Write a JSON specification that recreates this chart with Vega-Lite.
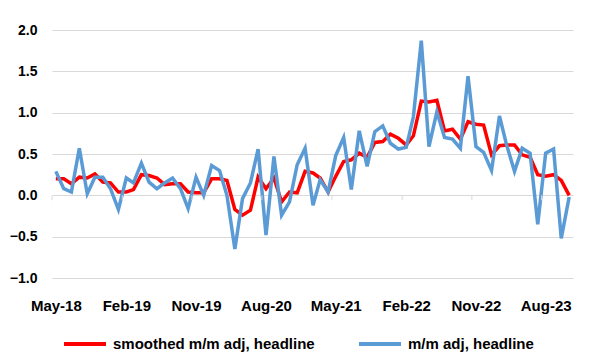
{
  "$schema": "https://vega.github.io/schema/vega-lite/v6.json",
  "width": 521,
  "height": 248,
  "autosize": "none",
  "padding": {"left": 52, "top": 30, "right": 27, "bottom": 82},
  "background": "white",
  "config": {"view": {"stroke": null}, "font": "Liberation Sans"},
  "datasets": {
    "series": [
      {"month": "2018-05-01", "smoothed": 0.20, "mm": 0.29},
      {"month": "2018-06-01", "smoothed": 0.20, "mm": 0.08},
      {"month": "2018-07-01", "smoothed": 0.14, "mm": 0.04},
      {"month": "2018-08-01", "smoothed": 0.22, "mm": 0.57},
      {"month": "2018-09-01", "smoothed": 0.21, "mm": 0.02},
      {"month": "2018-10-01", "smoothed": 0.26, "mm": 0.22},
      {"month": "2018-11-01", "smoothed": 0.16, "mm": 0.22},
      {"month": "2018-12-01", "smoothed": 0.15, "mm": 0.08},
      {"month": "2019-01-01", "smoothed": 0.04, "mm": -0.17},
      {"month": "2019-02-01", "smoothed": 0.04, "mm": 0.21},
      {"month": "2019-03-01", "smoothed": 0.07, "mm": 0.15},
      {"month": "2019-04-01", "smoothed": 0.25, "mm": 0.39},
      {"month": "2019-05-01", "smoothed": 0.24, "mm": 0.16},
      {"month": "2019-06-01", "smoothed": 0.21, "mm": 0.08},
      {"month": "2019-07-01", "smoothed": 0.13, "mm": 0.15},
      {"month": "2019-08-01", "smoothed": 0.14, "mm": 0.21},
      {"month": "2019-09-01", "smoothed": 0.14, "mm": 0.08},
      {"month": "2019-10-01", "smoothed": 0.04, "mm": -0.16},
      {"month": "2019-11-01", "smoothed": 0.03, "mm": 0.22},
      {"month": "2019-12-01", "smoothed": 0.03, "mm": 0.00},
      {"month": "2020-01-01", "smoothed": 0.20, "mm": 0.36},
      {"month": "2020-02-01", "smoothed": 0.20, "mm": 0.30},
      {"month": "2020-03-01", "smoothed": 0.18, "mm": 0.00},
      {"month": "2020-04-01", "smoothed": -0.17, "mm": -0.65},
      {"month": "2020-05-01", "smoothed": -0.24, "mm": -0.04},
      {"month": "2020-06-01", "smoothed": -0.18, "mm": 0.15},
      {"month": "2020-07-01", "smoothed": 0.22, "mm": 0.56},
      {"month": "2020-08-01", "smoothed": 0.08, "mm": -0.48},
      {"month": "2020-09-01", "smoothed": 0.21, "mm": 0.47},
      {"month": "2020-10-01", "smoothed": -0.08, "mm": -0.24},
      {"month": "2020-11-01", "smoothed": 0.04, "mm": -0.08},
      {"month": "2020-12-01", "smoothed": 0.03, "mm": 0.37},
      {"month": "2021-01-01", "smoothed": 0.29, "mm": 0.57},
      {"month": "2021-02-01", "smoothed": 0.27, "mm": -0.12},
      {"month": "2021-03-01", "smoothed": 0.21, "mm": 0.19},
      {"month": "2021-04-01", "smoothed": 0.04, "mm": 0.04},
      {"month": "2021-05-01", "smoothed": 0.23, "mm": 0.48},
      {"month": "2021-06-01", "smoothed": 0.41, "mm": 0.70},
      {"month": "2021-07-01", "smoothed": 0.43, "mm": 0.07},
      {"month": "2021-08-01", "smoothed": 0.51, "mm": 0.78},
      {"month": "2021-09-01", "smoothed": 0.46, "mm": 0.35},
      {"month": "2021-10-01", "smoothed": 0.64, "mm": 0.77},
      {"month": "2021-11-01", "smoothed": 0.65, "mm": 0.84},
      {"month": "2021-12-01", "smoothed": 0.74, "mm": 0.63},
      {"month": "2022-01-01", "smoothed": 0.69, "mm": 0.56},
      {"month": "2022-02-01", "smoothed": 0.61, "mm": 0.58},
      {"month": "2022-03-01", "smoothed": 0.72, "mm": 0.95},
      {"month": "2022-04-01", "smoothed": 1.14, "mm": 1.87},
      {"month": "2022-05-01", "smoothed": 1.13, "mm": 0.59},
      {"month": "2022-06-01", "smoothed": 1.15, "mm": 1.01},
      {"month": "2022-07-01", "smoothed": 0.78, "mm": 0.70},
      {"month": "2022-08-01", "smoothed": 0.80, "mm": 0.68},
      {"month": "2022-09-01", "smoothed": 0.68, "mm": 0.57},
      {"month": "2022-10-01", "smoothed": 0.89, "mm": 1.44},
      {"month": "2022-11-01", "smoothed": 0.86, "mm": 0.59},
      {"month": "2022-12-01", "smoothed": 0.85, "mm": 0.52},
      {"month": "2023-01-01", "smoothed": 0.49, "mm": 0.30},
      {"month": "2023-02-01", "smoothed": 0.60, "mm": 0.96},
      {"month": "2023-03-01", "smoothed": 0.61, "mm": 0.61},
      {"month": "2023-04-01", "smoothed": 0.61, "mm": 0.29},
      {"month": "2023-05-01", "smoothed": 0.49, "mm": 0.57},
      {"month": "2023-06-01", "smoothed": 0.46, "mm": 0.51},
      {"month": "2023-07-01", "smoothed": 0.25, "mm": -0.35},
      {"month": "2023-08-01", "smoothed": 0.23, "mm": 0.51},
      {"month": "2023-09-01", "smoothed": 0.25, "mm": 0.56},
      {"month": "2023-10-01", "smoothed": 0.18, "mm": -0.52},
      {"month": "2023-11-01", "smoothed": 0.00, "mm": -0.02}
    ],
    "ticks": [
      {"boundary": "2018-04-16"},
      {"boundary": "2019-01-16"},
      {"boundary": "2019-10-16"},
      {"boundary": "2020-07-16"},
      {"boundary": "2021-04-16"},
      {"boundary": "2022-01-16"},
      {"boundary": "2022-10-16"},
      {"boundary": "2023-07-16"}
    ]
  },
  "layer": [
    {
      "data": {"name": "series"},
      "mark": {"type": "line", "strokeWidth": 3.5},
      "encoding": {
        "x": {
          "field": "month", "type": "temporal",
          "scale": {"type": "utc", "domain": [
            {"year": 2018, "month": 4, "date": 16, "utc": true},
            {"year": 2023, "month": 11, "date": 16, "utc": true}
          ]},
          "axis": {
            "orient": "bottom", "title": null, "format": "%b-%y", "grid": false, "domain": false,
            "ticks": false, "tickSize": 0, "labelPadding": 20,
            "labelFont": "Liberation Sans", "labelFontSize": 15, "labelFontWeight": "bold", "labelColor": "#000000",
            "values": [
              {"year": 2018, "month": 5, "date": 1, "utc": true},
              {"year": 2019, "month": 2, "date": 1, "utc": true},
              {"year": 2019, "month": 11, "date": 1, "utc": true},
              {"year": 2020, "month": 8, "date": 1, "utc": true},
              {"year": 2021, "month": 5, "date": 1, "utc": true},
              {"year": 2022, "month": 2, "date": 1, "utc": true},
              {"year": 2022, "month": 11, "date": 1, "utc": true},
              {"year": 2023, "month": 8, "date": 1, "utc": true}
            ]
          }
        },
        "y": {
          "field": "smoothed", "type": "quantitative",
          "scale": {"domain": [-1, 2], "nice": false, "zero": false},
          "axis": {
            "title": null, "values": [-1, -0.5, 0, 0.5, 1, 1.5, 2], "format": ".1f",
            "domain": false, "ticks": false, "grid": true, "gridColor": "#d9d9d9", "gridWidth": 1,
            "labelFont": "Liberation Sans", "labelFontSize": 14, "labelFontWeight": "bold",
            "labelColor": "#000000", "labelPadding": 15
          }
        },
        "color": {
          "datum": "smoothed m/m adj, headline",
          "scale": {"domain": ["smoothed m/m adj, headline", "m/m adj, headline"], "range": ["#ff0000", "#5b9bd5"]},
          "legend": {
            "title": null, "orient": "none", "legendX": 10, "legendY": 291, "direction": "horizontal",
            "symbolType": "stroke", "symbolSize": 1764, "symbolStrokeWidth": 4,
            "labelFont": "Liberation Sans", "labelFontSize": 15, "labelFontWeight": "bold", "labelColor": "#000000",
            "labelOffset": 5, "columnPadding": 36, "labelLimit": 400
          }
        }
      }
    },
    {
      "data": {"name": "series"},
      "mark": {"type": "line", "strokeWidth": 3.5},
      "encoding": {
        "x": {"field": "month", "type": "temporal"},
        "y": {"field": "mm", "type": "quantitative"},
        "color": {"datum": "m/m adj, headline"}
      }
    },
    {
      "data": {"name": "ticks"},
      "mark": {"type": "rule", "color": "#d9d9d9", "strokeWidth": 1},
      "encoding": {
        "x": {"field": "boundary", "type": "temporal"},
        "y": {"datum": 0},
        "y2": {"datum": -0.06}
      }
    }
  ]
}
